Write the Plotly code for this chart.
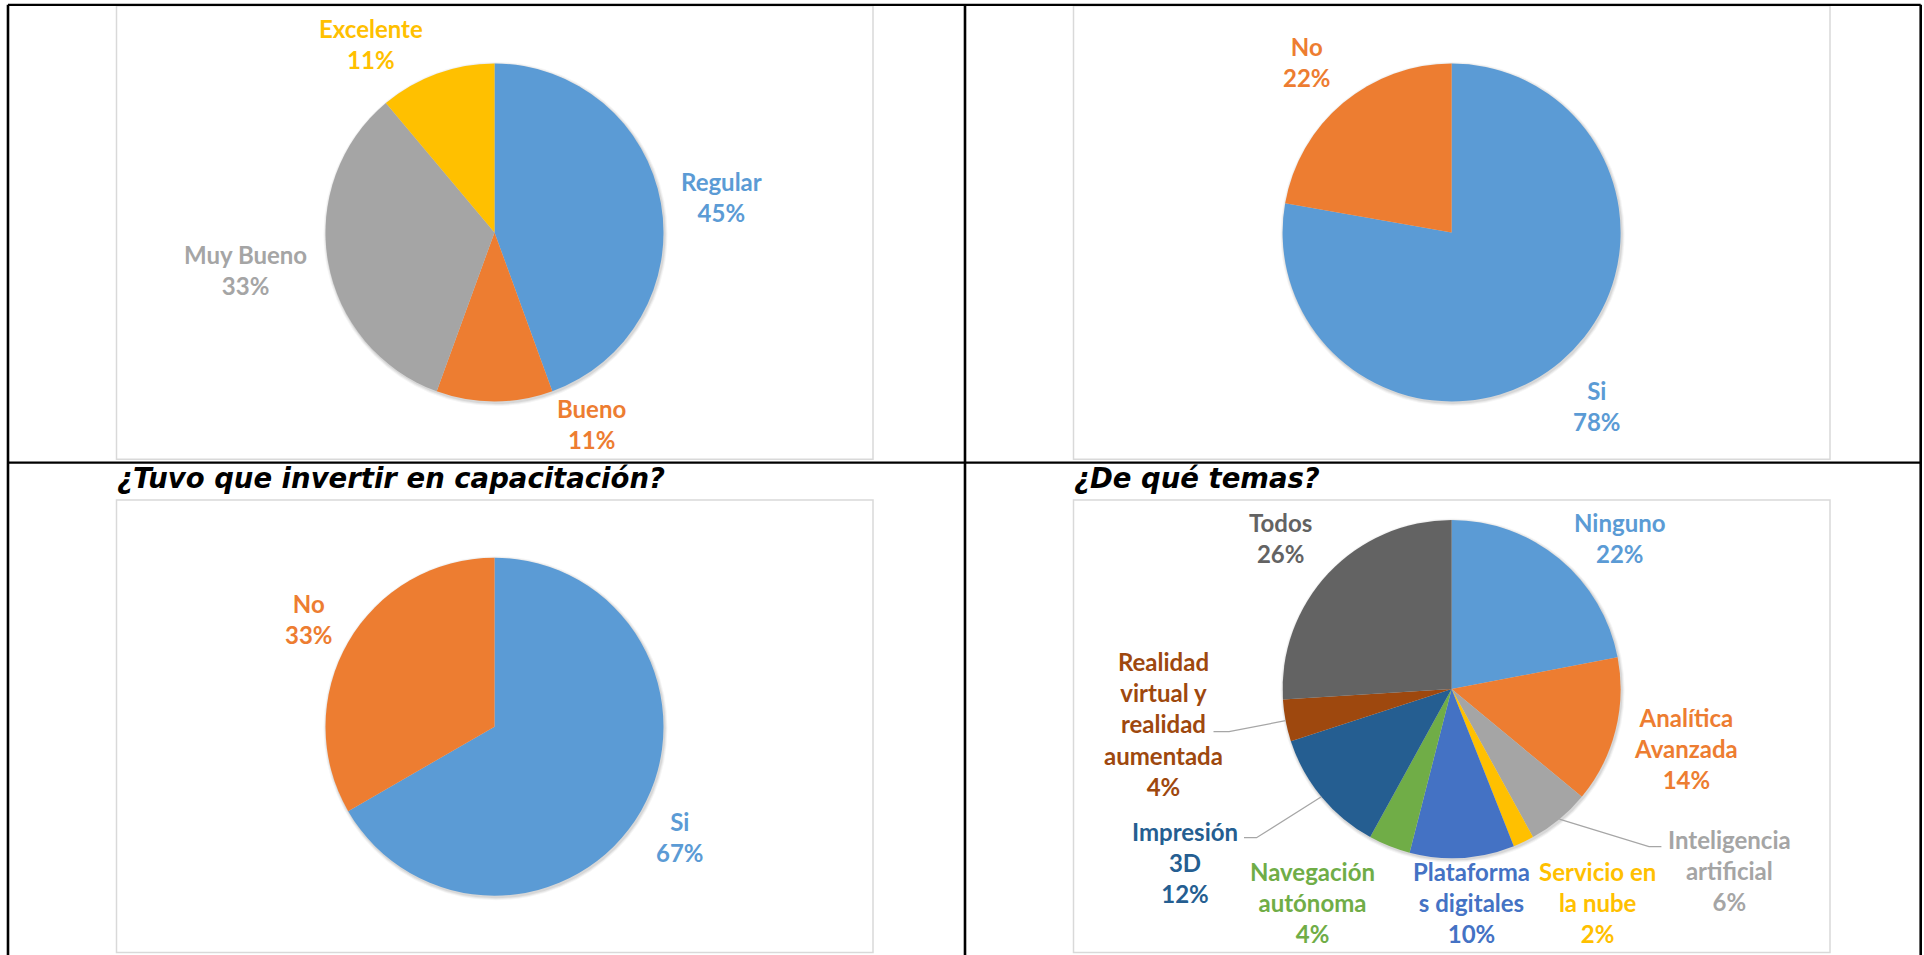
import math
import plotly.graph_objects as go

# ---------------- data ----------------
cal_labels = ["Regular", "Bueno", "Muy Bueno", "Excelente"]
cal_counts = [4, 1, 3, 1]
cal_pct = ["45%", "11%", "33%", "11%"]

inv_labels = ["Si", "No"]
inv_counts = [7, 2]
inv_pct = ["78%", "22%"]

cap_title = "¿Tuvo que invertir en capacitación?"
cap_labels = ["Si", "No"]
cap_counts = [6, 3]
cap_pct = ["67%", "33%"]

tem_title = "¿De qué temas?"
tem_labels = ["Ninguno", "Analítica Avanzada", "Inteligencia artificial", "Servicio en la nube",
              "Plataformas digitales", "Navegación autónoma", "Impresión 3D",
              "Realidad virtual y realidad aumentada", "Todos"]
tem_pct_values = [22, 14, 6, 2, 10, 4, 12, 4, 26]
tem_pct = ["22%", "14%", "6%", "2%", "10%", "4%", "12%", "4%", "26%"]

# ---------------- layout / style ----------------
W, H = 1924, 955
R = 169
COLORS = ["#5B9BD5", "#ED7D31", "#A5A5A5", "#FFC000", "#4472C4",
          "#70AD47", "#255E91", "#9E480E", "#636363"]
LABEL_FONT = "Lato"
LABEL_SIZE = 24

# how the long labels are wrapped in the reference
WRAP = {
    "Analítica Avanzada": "Analítica<br>Avanzada",
    "Inteligencia artificial": "Inteligencia<br>artificial",
    "Servicio en la nube": "Servicio en<br>la nube",
    "Plataformas digitales": "Plataforma<br>s digitales",
    "Navegación autónoma": "Navegación<br>autónoma",
    "Impresión 3D": "Impresión<br>3D",
    "Realidad virtual y realidad aumentada": "Realidad<br>virtual y<br>realidad<br>aumentada",
}


def px(x):
    return x / W


def py(y):
    return 1 - y / H


pies = [
    dict(labels=cal_labels, values=cal_counts, pct=cal_pct, c=(494.5, 232.5),
         pos=[(721, 197), (591, 424), (245, 270), (371, 44)]),
    dict(labels=inv_labels, values=inv_counts, pct=inv_pct, c=(1451.6, 232.5),
         pos=[(1597, 405.5), (1307, 61.7)]),
    dict(labels=cap_labels, values=cap_counts, pct=cap_pct, c=(494.5, 726.7),
         pos=[(680, 836.7), (308.6, 619.2)]),
    dict(labels=tem_labels, values=tem_pct_values, pct=tem_pct, c=(1451.6, 689),
         pos=[(1620, 537.8), (1686, 748.2), (1729, 870.8), (1597, 902.2), (1471, 902.2),
              (1312, 902.2), (1185, 862.8), (1163, 723.5), (1280, 537.8)]),
]

# leader lines (pie index, slice index, label-side start point, elbow point)
LEADERS = [
    (3, 7, (1213.5, 731.7), (1229, 731.7)),
    (3, 6, (1244, 837.7), (1256.5, 837.7)),
    (3, 2, (1661.4, 846.7), (1649, 846.7)),
]

fig = go.Figure()
shapes = []
annotations = []

for p in pies:
    cx, cy = p["c"]
    n = len(p["labels"])
    # soft shadow
    for d, a in [(3, 0.04), (2, 0.05), (1, 0.07)]:
        shapes.append(dict(type="circle", xref="paper", yref="paper", layer="below",
                           x0=px(cx - R - d + 1), x1=px(cx + R + d + 1),
                           y0=py(cy + R + d + 1.5), y1=py(cy - R - d + 1.5),
                           fillcolor=f"rgba(0,0,0,{a})", line=dict(width=0)))
    fig.add_trace(go.Pie(
        labels=p["labels"], values=p["values"], sort=False, direction="clockwise",
        rotation=0, textinfo="none", hoverinfo="label+percent",
        marker=dict(colors=COLORS[:n], line=dict(width=0)),
        domain=dict(x=[px(cx - R), px(cx + R)], y=[py(cy + R), py(cy - R)]),
        showlegend=False,
    ))
    for i, (lab, pc) in enumerate(zip(p["labels"], p["pct"])):
        x, y = p["pos"][i]
        annotations.append(dict(
            x=px(x), y=py(y), xref="paper", yref="paper", xanchor="center", yanchor="middle",
            text=f"{WRAP.get(lab, lab)}<br>{pc}", showarrow=False, align="center",
            font=dict(family=LABEL_FONT, size=LABEL_SIZE, color=COLORS[i], weight="bold"),
        ))

for pi, si, start, elbow in LEADERS:
    p = pies[pi]
    cx, cy = p["c"]
    tot = sum(p["values"])
    mid = (sum(p["values"][:si]) + p["values"][si] / 2) / tot
    th = 2 * math.pi * mid
    rx, ry = cx + R * math.sin(th), cy - R * math.cos(th)
    shapes.append(dict(
        type="path", xref="paper", yref="paper",
        path=f"M {px(start[0])} {py(start[1])} L {px(elbow[0])} {py(elbow[1])} L {px(rx)} {py(ry)}",
        line=dict(color="#A6A6A6", width=1.3),
    ))

# chart area boxes
for x0, y0, x1, y1 in [(116.5, 5.8, 873, 459.3), (1073.5, 5.8, 1830, 459.3),
                       (116.5, 500, 873, 952.5), (1073.5, 500, 1830, 952.5)]:
    shapes.append(dict(type="rect", xref="paper", yref="paper", layer="below",
                       x0=px(x0), x1=px(x1), y0=py(y1), y1=py(y0),
                       line=dict(color="#D9D9D9", width=1.5), fillcolor="rgba(0,0,0,0)"))

# table borders
for x0, y0, x1, y1, w in [(8, 4.8, 8, 955, 2.6), (1920.7, 4.8, 1920.7, 955, 2.6),
                          (8, 4.8, 1920.7, 4.8, 2.2), (8, 462.7, 1920.7, 462.7, 2.2),
                          (965, 4.8, 965, 955, 2.6)]:
    shapes.append(dict(type="line", xref="paper", yref="paper",
                       x0=px(x0), x1=px(x1), y0=py(y0), y1=py(y1),
                       line=dict(color="black", width=w)))

# section titles
for t, x in [(cap_title, 115), (tem_title, 1072)]:
    annotations.append(dict(
        x=px(x), y=py(496), xref="paper", yref="paper", xanchor="left", yanchor="bottom",
        text=f"<b><i>{t}</i></b>", showarrow=False,
        font=dict(family="DejaVu Sans", size=27.5, color="black"),
    ))

fig.update_layout(
    width=W, height=H, margin=dict(l=0, r=0, t=0, b=0),
    paper_bgcolor="white", plot_bgcolor="white",
    shapes=shapes, annotations=annotations,
)

fig.write_html("out.html", config={"displayModeBar": False},
               post_script="document.body.style.margin='0';document.body.style.overflow='hidden';")
